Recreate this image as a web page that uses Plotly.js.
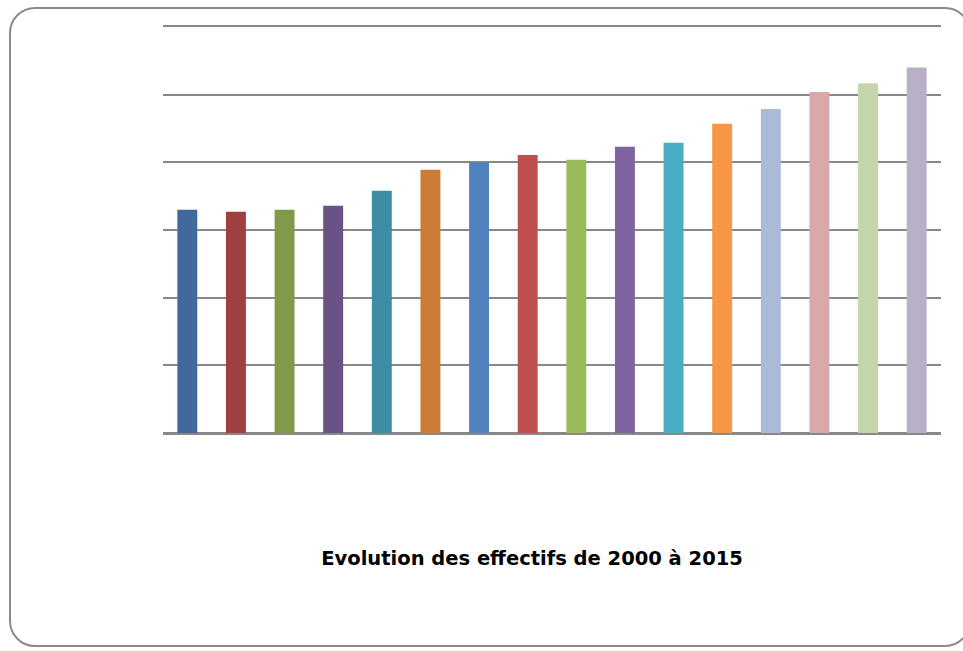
<!DOCTYPE html>
<html>
<head>
<meta charset="utf-8">
<script src="https://cdn.plot.ly/plotly-3.0.1.min.js"></script>
<style>
  html, body { margin: 0; padding: 0; background: #ffffff; overflow: hidden; }
  #wrap { position: relative; width: 963px; height: 651px; }
  #chart { position: absolute; left: 0; top: 0; width: 963px; height: 651px; }
  #frame { position: absolute; left: 9px; top: 7px; width: 962px; height: 640px;
           border: 2px solid #8a8a8a; border-radius: 26px; pointer-events: none; box-sizing: border-box; }
</style>
</head>
<body>
<div id="wrap">
  <div id="chart"></div>
  <div id="frame"></div>
</div>
<script>
const years = ['2000','2001','2002','2003','2004','2005','2006','2007','2008','2009','2010','2011','2012','2013','2014','2015'];
const effectifs = [3.30, 3.27, 3.30, 3.36, 3.58, 3.89, 4.00, 4.11, 4.04, 4.23, 4.29, 4.57, 4.79, 5.04, 5.17, 5.40];
const barColors = ['#41699B','#9E403F','#809A4A','#6A5287','#3D8DA4','#CC7C39','#5083BE','#C0504D',
                   '#9BBB59','#8064A2','#4BACC6','#F79646','#AABAD7','#D9A9A9','#C6D6AB','#B9AFC9'];
const chartTitle = 'Evolution des effectifs de 2000 à 2015';

const trace = {
  type: 'bar',
  x: years,
  y: effectifs,
  marker: { color: barColors, line: { width: 0 } },
  hoverinfo: 'x+y'
};

const layout = {
  width: 963,
  height: 651,
  margin: { l: 163, r: 22, t: 27, b: 218, pad: 0 },
  paper_bgcolor: '#ffffff',
  plot_bgcolor: '#ffffff',
  showlegend: false,
  bargap: 0.59,
  font: { family: 'DejaVu Sans, sans-serif', color: '#000000' },
  title: {
    text: '<b>' + chartTitle + '</b>',
    font: { family: 'DejaVu Sans, sans-serif', size: 19.5, color: '#000000' },
    xref: 'container', yref: 'container',
    x: 0.5525, y: 0.142, xanchor: 'center', yanchor: 'middle'
  },
  xaxis: {
    type: 'category',
    showticklabels: false,
    showgrid: false,
    ticks: '',
    showline: true,
    linecolor: '#888888',
    linewidth: 2,
    mirror: true,
    zeroline: false
  },
  yaxis: {
    range: [0, 6],
    dtick: 1,
    showticklabels: false,
    ticks: '',
    showgrid: true,
    gridcolor: '#888888',
    gridwidth: 2,
    zeroline: true,
    zerolinecolor: '#888888',
    zerolinewidth: 2,
    showline: false
  }
};

Plotly.newPlot('chart', [trace], layout, { staticPlot: true, displayModeBar: false });
</script>
</body>
</html>
